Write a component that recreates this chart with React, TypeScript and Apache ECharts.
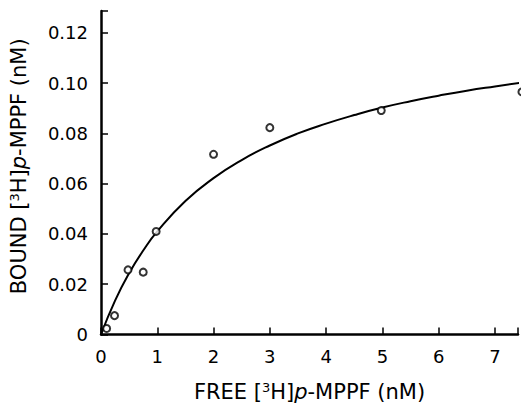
import React, { useEffect, useRef } from "react";
import * as echarts from "echarts";

// Measured binding points: free (nM) vs bound (nM)
const freeConc = [0.1, 0.24, 0.48, 0.75, 0.98, 2, 3, 4.98, 7.48];
const boundConc = [0.0024, 0.0075, 0.0257, 0.0248, 0.041, 0.0717, 0.0823, 0.0891, 0.0965];

// Fitted curve
const curveX = [0, 0.25, 0.5, 0.75, 1, 1.5, 2, 2.5, 3, 3.5, 4, 4.5, 5, 5.5, 6, 6.5, 7, 7.5];
const curveY = [0, 0.0135, 0.0244, 0.0334, 0.041, 0.0531, 0.0622, 0.0694, 0.0752, 0.08, 0.0839, 0.0873, 0.0903, 0.0928, 0.095, 0.097, 0.0987, 0.1003];

const xTicks = [0, 1, 2, 3, 4, 5, 6, 7];
const yTicks = [0, 0.02, 0.04, 0.06, 0.08, 0.1, 0.12];

export default function App() {
  const ref = useRef<HTMLDivElement>(null);
  useEffect(() => {
    document.body.style.margin = "0";
    const chart = echarts.init(ref.current!, null, { renderer: "svg" });
    const font = "DejaVu Sans";
    const rich = {
      n: { fontSize: 21, lineHeight: 22, fontFamily: font, color: "#000" },
      it: { fontSize: 21, lineHeight: 22, fontFamily: font, fontStyle: "italic", color: "#000" },
      sup: { fontSize: 13, lineHeight: 13, fontFamily: font, color: "#000", verticalAlign: "top", padding: [0, 0, 2, 0] },
    };
    chart.setOption({
      animation: false,
      backgroundColor: "#ffffff",
      textStyle: { fontFamily: font },
      grid: { left: 101, top: 11, right: 0, bottom: 69, containLabel: false },
      xAxis: {
        type: "value",
        min: 0,
        max: 7.41,
        interval: 1,
        name: "{n|FREE [}{sup|3}{n|H]}{it|p}{n|-MPPF (nM)}",
        nameLocation: "middle",
        nameGap: 46,
        nameTextStyle: { rich },
        axisLine: { show: true, lineStyle: { color: "#000", width: 2.5 } },
        axisTick: { show: true, inside: true, length: 7, lineStyle: { color: "#000", width: 1.5 } },
        axisLabel: {
          color: "#000",
          fontSize: 18,
          fontFamily: font,
          margin: 13,
          formatter: (v: number) => (xTicks.includes(v) ? String(v) : ""),
        },
        splitLine: { show: false },
      },
      yAxis: {
        type: "value",
        min: 0,
        max: 0.1287,
        interval: 0.02,
        name: "{n|BOUND [}{sup|3}{n|H]}{it|p}{n|-MPPF (nM)}",
        nameLocation: "middle",
        nameRotate: 90,
        nameGap: 71,
        nameTextStyle: { rich, padding: [0, 0, 0, 13] },
        axisLine: { show: true, lineStyle: { color: "#000", width: 2.5 } },
        axisTick: { show: true, inside: true, length: 7, lineStyle: { color: "#000", width: 1.5 } },
        axisLabel: {
          color: "#000",
          fontSize: 18,
          fontFamily: font,
          margin: 13,
          formatter: (v: number) => {
            const t = yTicks.find((y) => Math.abs(y - v) < 1e-9);
            if (t === undefined) return "";
            return t === 0 ? "0" : t.toFixed(2);
          },
        },
        splitLine: { show: false },
      },
      series: [
        {
          type: "line",
          data: curveX.map((x, i) => [x, curveY[i]]),
          smooth: true,
          symbol: "none",
          lineStyle: { color: "#000", width: 2 },
          clip: true,
          z: 2,
        },
        {
          type: "scatter",
          data: freeConc.map((x, i) => [x, boundConc[i]]),
          symbol: "circle",
          symbolSize: 7,
          itemStyle: { color: "#fff", borderColor: "#000", borderWidth: 2 },
          clip: false,
          z: 3,
        },
      ],
    });
    return () => chart.dispose();
  }, []);
  return <div ref={ref} style={{ width: 521, height: 407 }} />;
}
